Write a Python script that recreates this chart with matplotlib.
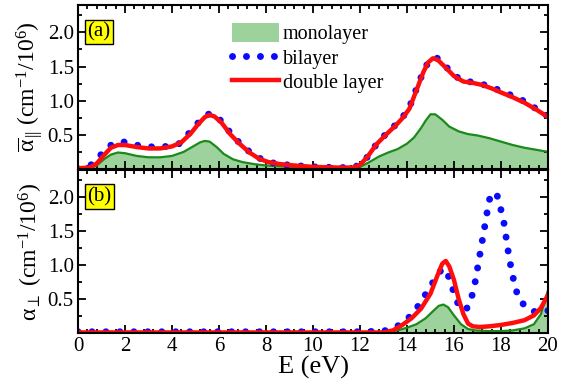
import matplotlib
matplotlib.use("Agg")
import matplotlib.pyplot as plt
from matplotlib.ticker import MultipleLocator
from matplotlib.lines import Line2D
from matplotlib.patches import Patch

plt.rcParams["font.family"] = ["Liberation Serif", "DejaVu Serif"]
plt.rcParams["mathtext.fontset"] = "custom"
plt.rcParams["mathtext.rm"] = "Liberation Serif"
plt.rcParams["mathtext.it"] = "Liberation Serif:italic"

# ---- panel (a): parallel absorption ----
E_mono_a = [0, 0.5, 0.8, 1.1, 1.4, 1.7, 2.0, 2.5, 3.0, 3.5, 4.0, 4.5, 4.9, 5.2, 5.4, 5.6,
            5.9, 6.2, 6.6, 7.0, 7.5, 8.0, 8.5, 9.0, 10, 11, 11.7, 12.0, 12.4, 12.8, 13.2,
            13.6, 14.0, 14.3, 14.6, 14.8, 15.0, 15.2, 15.5, 15.8, 16.2, 16.6, 17.0, 17.5,
            18.0, 18.5, 19.0, 19.5, 20.0]
mono_a = [0.0, 0.01, 0.05, 0.14, 0.21, 0.24, 0.23, 0.19, 0.17, 0.17, 0.19, 0.25, 0.33, 0.39,
          0.41, 0.40, 0.32, 0.22, 0.14, 0.10, 0.07, 0.05, 0.04, 0.03, 0.02, 0.01, 0.01, 0.03,
          0.10, 0.18, 0.24, 0.29, 0.37, 0.46, 0.60, 0.71, 0.80, 0.80, 0.72, 0.62, 0.55, 0.51,
          0.49, 0.45, 0.40, 0.35, 0.31, 0.28, 0.25]

E_bi_a = [0, 0.5, 0.9, 1.3, 1.6, 1.9, 2.3, 2.8, 3.3, 3.8, 4.3, 4.8, 5.1, 5.4, 5.6, 5.8, 6.1,
          6.5, 6.9, 7.3, 7.7, 8.1, 8.6, 9.2, 10, 11, 11.7, 12.0, 12.3, 12.7, 13.1, 13.5, 13.8,
          14.1, 14.4, 14.7, 14.9, 15.1, 15.3, 15.6, 16.0, 16.4, 16.8, 17.2, 17.6, 18.0, 18.5,
          19.0, 19.5, 20.0]
bi_a = [0.0, 0.04, 0.18, 0.33, 0.38, 0.40, 0.36, 0.33, 0.32, 0.33, 0.37, 0.55, 0.67, 0.77,
        0.81, 0.79, 0.70, 0.52, 0.37, 0.25, 0.16, 0.10, 0.07, 0.05, 0.03, 0.02, 0.02, 0.06,
        0.17, 0.36, 0.51, 0.64, 0.75, 0.90, 1.17, 1.43, 1.56, 1.63, 1.62, 1.52, 1.37, 1.29,
        1.27, 1.24, 1.20, 1.14, 1.07, 0.99, 0.88, 0.77]

E_dl_a = [0, 0.5, 0.8, 1.1, 1.4, 1.7, 2.0, 2.5, 3.0, 3.5, 4.0, 4.4, 4.8, 5.1, 5.4, 5.6, 5.8,
          6.1, 6.5, 6.9, 7.3, 7.7, 8.1, 8.6, 9.2, 10, 11, 11.7, 12.0, 12.3, 12.7, 13.1, 13.5,
          13.8, 14.1, 14.4, 14.7, 14.9, 15.1, 15.3, 15.6, 16.0, 16.4, 16.8, 17.2, 17.6, 18.0,
          18.5, 19.0, 19.5, 20.0]
dl_a = [0.01, 0.02, 0.08, 0.20, 0.31, 0.35, 0.35, 0.32, 0.30, 0.30, 0.33, 0.39, 0.52, 0.65,
        0.76, 0.79, 0.77, 0.68, 0.50, 0.36, 0.24, 0.15, 0.10, 0.07, 0.05, 0.03, 0.02, 0.02,
        0.06, 0.17, 0.36, 0.50, 0.63, 0.74, 0.88, 1.15, 1.42, 1.56, 1.62, 1.60, 1.50, 1.36,
        1.28, 1.26, 1.23, 1.18, 1.12, 1.05, 0.97, 0.87, 0.76]

# ---- panel (b): perpendicular absorption ----
E_mono_b = [0, 4, 8, 12, 13.2, 13.6, 14.0, 14.4, 14.8, 15.1, 15.35, 15.55, 15.75, 16.0, 16.3,
            16.6, 16.9, 17.5, 18.0, 18.5, 19.0, 19.4, 19.7, 20.0]
mono_b = [0.0, 0.0, 0.0, 0.0, 0.01, 0.04, 0.08, 0.13, 0.22, 0.32, 0.40, 0.42, 0.38, 0.26,
          0.13, 0.06, 0.04, 0.03, 0.03, 0.04, 0.07, 0.13, 0.28, 0.63]

E_bi_b = [0, 2, 4, 6, 8, 10, 12, 13.0, 13.4, 13.8, 14.2, 14.5, 14.9, 15.2, 15.5, 15.7, 15.9,
          16.1, 16.3, 16.5, 16.7, 16.9, 17.1, 17.3, 17.5, 17.8, 18.1, 18.35, 18.6, 18.8, 19.2,
          19.6, 20.0]
bi_b = [0.02, 0.02, 0.02, 0.02, 0.02, 0.02, 0.02, 0.03, 0.07, 0.14, 0.27, 0.41, 0.63, 0.80,
        0.95, 0.90, 0.70, 0.48, 0.36, 0.34, 0.45, 0.75, 1.15, 1.55, 1.96, 2.07, 1.68, 1.10,
        0.67, 0.48, 0.34, 0.30, 0.33]

E_dl_b = [0, 2, 4, 6, 8, 10, 12, 13.0, 13.4, 13.8, 14.2, 14.6, 15.0, 15.3, 15.5, 15.65, 15.8,
          16.0, 16.2, 16.4, 16.6, 16.8, 17.1, 17.5, 18.0, 18.5, 19.0, 19.4, 19.7, 20.0]
dl_b = [0.01, 0.01, 0.01, 0.01, 0.01, 0.01, 0.01, 0.01, 0.04, 0.12, 0.22, 0.36, 0.58, 0.85,
        1.02, 1.06, 0.98, 0.78, 0.50, 0.28, 0.14, 0.10, 0.09, 0.10, 0.12, 0.15, 0.19, 0.26,
        0.37, 0.56]

FILL = "#9dd29d"
EDGE = "#1a8a1a"
BLUE = "#0a0aff"
RED = "#ff0d0d"
DOTS = (0, (0.01, 2.0))

fig = plt.figure(figsize=(5.75, 3.91), dpi=100)
ax1 = fig.add_axes([0.1357, 0.568, 0.8173, 0.419])
ax2 = fig.add_axes([0.1357, 0.148, 0.8173, 0.418])

panels = [
    (ax1, E_mono_a, mono_a, E_bi_a, bi_a, E_dl_a, dl_a, "(a)"),
    (ax2, E_mono_b, mono_b, E_bi_b, bi_b, E_dl_b, dl_b, "(b)"),
]
for ax, em, m, eb, b, ed, d, tag in panels:
    ax.fill_between(em, 0, m, color=FILL, lw=0)
    ax.plot(em, m, color=EDGE, lw=1.6)
    ax.plot(eb, b, color=BLUE, lw=5, linestyle=DOTS, dash_capstyle="round")
    ax.plot(ed, d, color=RED, lw=3.2)
    ax.set_xlim(0, 20)
    ax.set_ylim(0, 2.4)
    ax.set_yticks([0.5, 1.0, 1.5, 2.0])
    ax.yaxis.set_minor_locator(MultipleLocator(0.25))
    ax.set_xticks(range(0, 21, 2))
    ax.xaxis.set_minor_locator(MultipleLocator(0.4))
    ax.tick_params(which="both", direction="in", top=True, right=True, width=1.3,
                   labelsize=15, pad=3)
    ax.tick_params(which="major", length=6)
    ax.tick_params(which="minor", length=3)
    for s in ax.spines.values():
        s.set_linewidth(1.5)
    ax.text(0.02, 0.895, tag, transform=ax.transAxes, fontsize=15, va="top", ha="left",
            bbox=dict(boxstyle="square,pad=0.12", facecolor="yellow", edgecolor="black", lw=1))

ax1.tick_params(labelbottom=False)
ax1.set_ylabel(r"$\overline{\mathrm{\alpha}}_{\,||}$ (cm$^{-1}$/10$^{6}$)", fontsize=17,
               labelpad=2)
ax2.set_ylabel(r"$\mathrm{\alpha}_{\perp}$ (cm$^{-1}$/10$^{6}$)", fontsize=17, labelpad=2)
ax2.set_xlabel("E (eV)", fontsize=19, labelpad=0)

handles = [
    Patch(facecolor=FILL, edgecolor="none"),
    Line2D([], [], color=BLUE, lw=5, linestyle=DOTS, dash_capstyle="round"),
    Line2D([], [], color=RED, lw=3.2),
]
ax1.legend(handles, ["monolayer", "bilayer", "double layer"], loc="upper left",
           bbox_to_anchor=(0.29, 1.0), frameon=False, fontsize=14.5, handlelength=2.3,
           handleheight=1.05, handletextpad=0.2, labelspacing=0.15, borderaxespad=0.5)

fig.savefig("out.png", dpi=100)
